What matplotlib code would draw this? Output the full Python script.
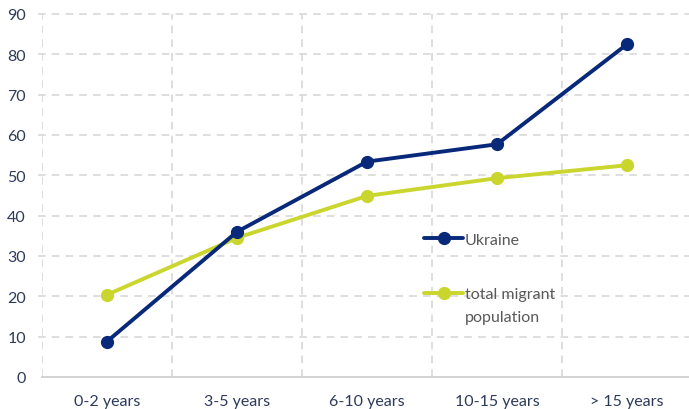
import matplotlib
matplotlib.use("Agg")
import matplotlib.pyplot as plt

categories = ["0-2 years", "3-5 years", "6-10 years", "10-15 years", "> 15 years"]
ukraine = [8.8, 36.0, 53.4, 57.7, 82.5]
total_migrant = [20.4, 34.5, 44.9, 49.3, 52.5]
yticks = [0, 10, 20, 30, 40, 50, 60, 70, 80, 90]

plt.rcParams['font.family'] = ['Lato', 'DejaVu Sans']

fig = plt.figure(figsize=(6.89, 4.10), dpi=100)
ax = fig.add_axes([42/689, 32/410, (689-42)/689, (378-15)/410])

x = list(range(len(categories)))
grid_c = "#D4D4D4"
for yv in yticks[1:]:
    ax.axhline(yv, color=grid_c, lw=1.1, ls=(0, (5, 4)), zorder=1, xmin=-0.006, clip_on=False)
for xv in [-0.5, 0.5, 1.5, 2.5, 3.5]:
    ax.axvline(xv, color=grid_c, lw=1.1, ls=(0, (5, 4)), zorder=1)

navy = "#08297A"
lime = "#CAD62E"
ax.plot(x, ukraine, color=navy, lw=2.8, marker="o", ms=8.5, label="Ukraine", zorder=3, solid_capstyle="round")
ax.plot(x, total_migrant, color=lime, lw=2.8, marker="o", ms=8.5, label="total migrant", zorder=2, solid_capstyle="round")

ax.set_xlim(-0.5, 4.5 - 3/130)
ax.set_ylim(0, 90)
ax.set_yticks(yticks)
ax.set_xticks(x)
ax.set_xticklabels(categories)
ax.tick_params(axis="both", length=0, labelsize=11.5, colors="#2E3A59")
ax.tick_params(axis="y", pad=11.5)
ax.tick_params(axis="x", pad=12)
for s in ["top", "right", "left"]:
    ax.spines[s].set_visible(False)
ax.spines["bottom"].set_color("#D0D0D0")
ax.spines["bottom"].set_linewidth(1.3)

leg = ax.legend(loc="upper left", bbox_to_anchor=(410/689, (410-219)/410), bbox_transform=fig.transFigure,
                frameon=False, handlelength=2.4, handletextpad=0.12, labelspacing=2.55, fontsize=11.5,
                labelcolor="#595959")

fig.canvas.draw()
t = leg.get_texts()[1]
bb = t.get_window_extent()
inv = fig.transFigure.inverted()
x0, y0 = inv.transform((bb.x0, bb.y0))
fig.text(x0, y0 - 23/410, "population", fontsize=11.5, color="#595959", ha="left", va="bottom")

fig.savefig("out.png", dpi=100)
